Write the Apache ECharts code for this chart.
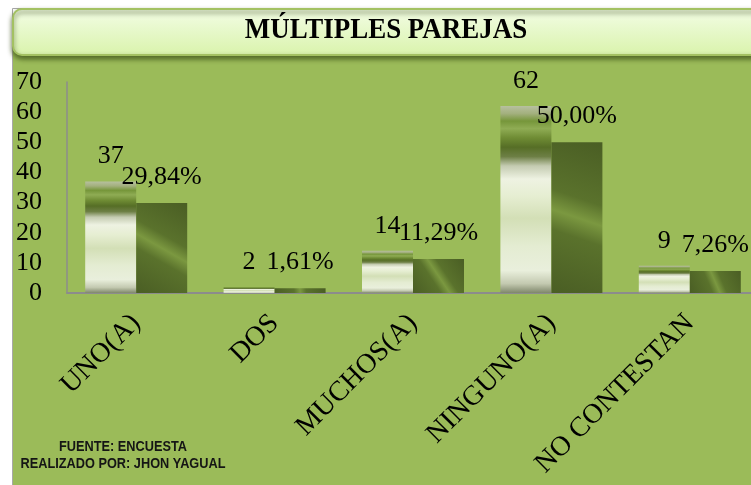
<!DOCTYPE html>
<html>
<head>
<meta charset="utf-8">
<script src="https://cdn.jsdelivr.net/npm/echarts@6/dist/echarts.min.js"></script>
<style>
  html, body { margin: 0; padding: 0; background: #ffffff; }
  #chart { width: 751px; height: 485px; }
</style>
</head>
<body>
<div id="chart"></div>
<script>
var categories = ['UNO(A)', 'DOS', 'MUCHOS(A)', 'NINGUNO(A)', 'NO CONTESTAN'];
var counts = [37, 2, 14, 62, 9];
var percents = [29.84, 1.61, 11.29, 50.00, 7.26];
var yTicks = { min: 0, max: 70, interval: 10 };
var titleText = 'MÚLTIPLES PAREJAS';
var footerLine1 = 'FUENTE: ENCUESTA';
var footerLine2 = 'REALIZADO POR: JHON YAGUAL';

var chart = echarts.init(document.getElementById('chart'), null, { renderer: 'canvas' });

var countGradient = new echarts.graphic.LinearGradient(0, 0, 0, 1, [
  { offset: 0.00, color: '#b7c09f' },
  { offset: 0.04, color: '#a3b07e' },
  { offset: 0.08, color: '#76963a' },
  { offset: 0.12, color: '#8fac54' },
  { offset: 0.17, color: '#6f8c34' },
  { offset: 0.22, color: '#566e26' },
  { offset: 0.27, color: '#6d7f45' },
  { offset: 0.32, color: '#c4cbb1' },
  { offset: 0.39, color: '#eef2e2' },
  { offset: 0.48, color: '#e6eed2' },
  { offset: 0.60, color: '#d3dfb6' },
  { offset: 0.75, color: '#e4ecd2' },
  { offset: 0.88, color: '#e9efdc' },
  { offset: 0.95, color: '#c3c9b0' },
  { offset: 1.00, color: '#7f876b' }
]);
var pctGradient = new echarts.graphic.LinearGradient(0, 1, 1, 0, [
  { offset: 0.00, color: '#4a5e24' },
  { offset: 0.38, color: '#5a722c' },
  { offset: 0.50, color: '#7b9840' },
  { offset: 0.62, color: '#5a722c' },
  { offset: 1.00, color: '#4a5e24' }
]);

var serif = 'Liberation Serif';

var option = {
  animation: false,
  backgroundColor: '#ffffff',
  graphic: [
    { type: 'rect', z: -10, shape: { x: 12.5, y: 8.5, width: 760, height: 490 },
      style: { fill: '#ffffff', stroke: '#a8a8a8', lineWidth: 1 } },
    { type: 'rect', z: -9, shape: { x: 13, y: 40, width: 760, height: 450 },
      style: { fill: '#9bbb59' } },
    { type: 'rect', z: -8, shape: { x: 13, y: 9, width: 770, height: 46, r: [9, 0, 0, 9] },
      style: {
        fill: new echarts.graphic.LinearGradient(0, 0, 0, 1, [
          { offset: 0, color: '#f3fde6' },
          { offset: 1, color: '#d9f3ab' }
        ]),
        stroke: '#a3c162', lineWidth: 2,
        shadowBlur: 5, shadowOffsetY: 3, shadowColor: 'rgba(55,75,20,0.75)'
      } },
    { type: 'text', z: 10, x: 386, y: 45, scaleX: 0.93,
      style: { text: titleText, font: 'bold 29px "Liberation Serif"', fill: '#000000',
        textAlign: 'center', textVerticalAlign: 'bottom' } },
    { type: 'text', z: 10, x: 123, y: 447, scaleX: 0.85,
      style: { text: footerLine1, font: 'bold 15px "Liberation Sans"', fill: '#151515',
        textAlign: 'center', textVerticalAlign: 'middle' } },
    { type: 'text', z: 10, x: 123, y: 464, scaleX: 0.85,
      style: { text: footerLine2, font: 'bold 15px "Liberation Sans"', fill: '#151515',
        textAlign: 'center', textVerticalAlign: 'middle' } }
  ],
  grid: {
    left: 67, right: -8, top: 82, bottom: 192,
    containLabel: false,
    outerBoundsMode: 'none'
  },
  xAxis: {
    type: 'category',
    data: categories,
    axisLine: { show: true, lineStyle: { color: '#8c8c8c', width: 2 } },
    axisTick: { show: false },
    axisLabel: {
      rotate: 45, margin: 26, interval: 0,
      fontFamily: serif, fontSize: 28, color: '#000000'
    }
  },
  yAxis: {
    type: 'value',
    min: yTicks.min, max: yTicks.max, interval: yTicks.interval,
    axisLine: { show: true, lineStyle: { color: '#8c8c8c', width: 1.5 } },
    axisTick: { show: false },
    splitLine: { show: false },
    axisLabel: { margin: 25, fontFamily: serif, fontSize: 26, color: '#000000' }
  },
  series: [
    {
      type: 'bar',
      data: counts,
      barWidth: 51,
      barGap: '0%',
      itemStyle: { color: countGradient },
      label: {
        show: true, position: 'top', distance: 12,
        fontFamily: serif, fontSize: 26, color: '#000000'
      }
    },
    {
      type: 'bar',
      data: percents,
      barWidth: 51,
      barGap: '0%',
      itemStyle: { color: pctGradient },
      label: {
        show: true, position: 'top', distance: 13,
        fontFamily: serif, fontSize: 26, color: '#000000',
        formatter: function (p) { return p.value.toFixed(2).replace('.', ',') + '%'; }
      }
    }
  ]
};
chart.setOption(option);
</script>
</body>
</html>
